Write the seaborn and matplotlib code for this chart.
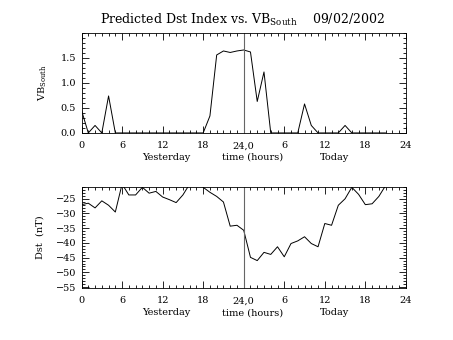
import numpy as np
import pandas as pd
import matplotlib
matplotlib.use("Agg")
import matplotlib.pyplot as plt
import matplotlib.transforms as mtransforms
from matplotlib.ticker import MultipleLocator
import seaborn as sns

# ---- data (hours since start of "yesterday") ----
vb_hours = list(range(0, 46))
vb_values = [0.45, 0.0, 0.15, 0.0, 0.74, 0.0, 0.0, 0.0, 0.0, 0.0,
             0.0, 0.0, 0.0, 0.0, 0.0, 0.0, 0.0, 0.0, 0.0, 0.34,
             1.56, 1.64, 1.61, 1.64, 1.66, 1.62, 0.63, 1.22, 0.0, 0.0,
             0.0, 0.0, 0.0, 0.58, 0.15, 0.0, 0.0, 0.0, 0.0, 0.15,
             0.0, 0.0, 0.0, 0.0, 0.0, 0.0]

dst_hours = list(range(0, 46))
dst_values = [-27.0, -26.5, -28.1, -25.7, -27.2, -29.5, -20.0, -23.7, -23.7, -21.1,
              -23.1, -22.5, -24.4, -25.3, -26.3, -23.7, -20.0, -19.0, -21.1, -22.8,
              -24.2, -26.1, -34.3, -34.0, -35.7, -44.9, -46.0, -43.2, -43.9, -41.3,
              -44.7, -40.2, -39.3, -37.9, -40.2, -41.3, -33.4, -34.0, -27.2, -25.0,
              -21.1, -23.5, -27.0, -26.7, -24.2, -20.5]

xtick_pos = [0, 6, 12, 18, 24, 30, 36, 42, 48]
xtick_labels = ["0", "6", "12", "18", "24,0", "6", "12", "18", "24"]
vb_yticks = [0.0, 0.5, 1.0, 1.5]
dst_yticks = [-25, -30, -35, -40, -45, -50, -55]

title_text = r"Predicted Dst Index vs. VB$_{\rm South}$    09/02/2002"

sns.set_style("ticks")
plt.rcParams["font.family"] = ["DejaVu Serif"]
plt.rcParams["mathtext.fontset"] = "dejavuserif"
plt.rcParams["text.color"] = "black"
plt.rcParams["axes.labelcolor"] = "black"
plt.rcParams["xtick.color"] = "black"
plt.rcParams["ytick.color"] = "black"
plt.rcParams["axes.edgecolor"] = "black"

fig = plt.figure(figsize=(4.53, 3.40), dpi=100)
ax1 = fig.add_axes([0.180, 0.609, 0.716, 0.294])
ax2 = fig.add_axes([0.180, 0.153, 0.716, 0.297])

df_vb = pd.DataFrame({"hour": vb_hours, "vb": vb_values})
df_dst = pd.DataFrame({"hour": dst_hours, "dst": dst_values})

sns.lineplot(data=df_vb, x="hour", y="vb", ax=ax1, color="black", linewidth=0.7)
sns.lineplot(data=df_dst, x="hour", y="dst", ax=ax2, color="black", linewidth=0.7)

ax1.set_ylim(0, 2.0)
ax2.set_ylim(-55.3, -21.0)

for ax in (ax1, ax2):
    ax.set_xlim(0, 48)
    ax.axvline(24, color="#666666", linewidth=0.8)
    ax.set_xticks(xtick_pos)
    ax.set_xticklabels(xtick_labels, fontsize=7)
    ax.xaxis.set_minor_locator(MultipleLocator(1))
    ax.tick_params(which="both", direction="in", top=True, right=True,
                   labelsize=7, width=0.6)
    ax.tick_params(axis="x", which="both", pad=6)
    ax.tick_params(axis="y", which="both", pad=4)
    ax.tick_params(which="major", length=5)
    ax.tick_params(which="minor", length=2.5)
    for s in ax.spines.values():
        s.set_linewidth(0.6)
    ax.set_xlabel("")
    trans = mtransforms.blended_transform_factory(ax.transData, ax.transAxes)
    ax.text(12.5, -0.20, "Yesterday", transform=trans, ha="center", va="top", fontsize=7)
    ax.text(25.3, -0.20, "time (hours)", transform=trans, ha="center", va="top", fontsize=7)
    ax.text(37.4, -0.20, "Today", transform=trans, ha="center", va="top", fontsize=7)

ax1.set_yticks(vb_yticks)
ax1.set_yticklabels([f"{v:.1f}" for v in vb_yticks])
ax1.yaxis.set_minor_locator(MultipleLocator(0.1))
ax1.set_ylabel(r"VB$_{\rm South}$", fontsize=7, labelpad=8)

ax2.set_yticks(dst_yticks)
ax2.set_yticklabels([str(v).replace("-", "\u2212") for v in dst_yticks])
ax2.yaxis.set_minor_locator(MultipleLocator(1))
ax2.set_ylabel("Dst  (nT)", fontsize=7, labelpad=8)

fig.text(0.535, 0.94, title_text, ha="center", va="center", fontsize=9)

fig.savefig("out.png", dpi=100)
